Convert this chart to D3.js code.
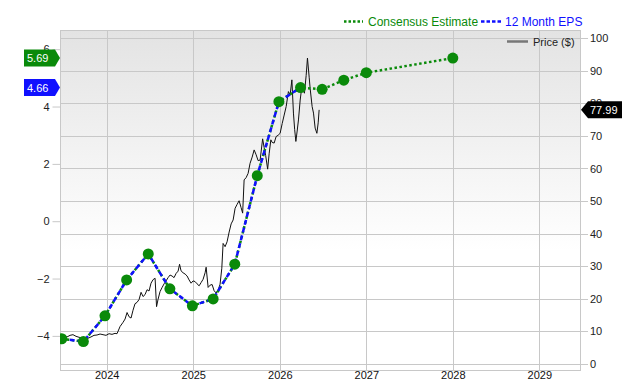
<!DOCTYPE html>
<html>
<head>
<meta charset="utf-8">
<script src="https://cdn.jsdelivr.net/npm/d3@7"></script>
<style>
  body { margin: 0; background: #fff; }
  svg { display: block; font-family: "Liberation Sans", Arial, sans-serif; }
</style>
</head>
<body>
<script>
// EPS, quarterly actuals then consensus estimates (decimal years)
const epsDates = [2023.48, 2023.73, 2023.98, 2024.23, 2024.48, 2024.73, 2024.99, 2025.23,
    2025.48, 2025.74, 2025.99, 2026.24, 2026.49, 2026.74, 2027.0, 2028.0];
const epsValues = [-4.10, -4.20, -3.30, -2.05, -1.14, -2.36, -2.95, -2.71,
    -1.50, 1.59, 4.17, 4.66, 4.60, 4.92, 5.18, 5.69];
const actualCount = 12;

// share price ($)
const priceDates = [2023.471, 2023.506, 2023.541, 2023.576, 2023.610, 2023.645, 2023.680, 2023.714,
    2023.749, 2023.784, 2023.818, 2023.853, 2023.888, 2023.923, 2023.957, 2023.992, 2024.027,
    2024.061, 2024.096, 2024.119, 2024.154, 2024.189, 2024.212, 2024.235, 2024.258, 2024.281,
    2024.304, 2024.327, 2024.350, 2024.374, 2024.397, 2024.420, 2024.443, 2024.466, 2024.489,
    2024.512, 2024.536, 2024.559, 2024.576, 2024.593, 2024.616, 2024.640, 2024.663, 2024.686,
    2024.709, 2024.732, 2024.755, 2024.778, 2024.802, 2024.825, 2024.842, 2024.859, 2024.882,
    2024.906, 2024.929, 2024.952, 2024.975, 2024.998, 2025.021, 2025.044, 2025.068, 2025.091,
    2025.114, 2025.137, 2025.149, 2025.172, 2025.195, 2025.218, 2025.241, 2025.264, 2025.287,
    2025.310, 2025.330, 2025.345, 2025.368, 2025.391, 2025.415, 2025.438, 2025.461, 2025.484,
    2025.507, 2025.530, 2025.553, 2025.571, 2025.588, 2025.611, 2025.634, 2025.657, 2025.681,
    2025.704, 2025.727, 2025.750, 2025.773, 2025.802, 2025.819, 2025.837, 2025.860, 2025.877,
    2025.897, 2025.912, 2025.935, 2025.958, 2025.981, 2026.004, 2026.028, 2026.051, 2026.074,
    2026.100, 2026.120, 2026.140, 2026.158, 2026.172, 2026.186, 2026.201, 2026.216, 2026.236,
    2026.255, 2026.270, 2026.285, 2026.305, 2026.320, 2026.340, 2026.351, 2026.374, 2026.390,
    2026.409, 2026.429, 2026.444, 2026.455];
const priceValues = [7.9, 8.6, 8.3, 8.8, 9.0, 8.5, 8.2, 8.0,
    8.1, 7.9, 8.3, 8.8, 8.9, 9.2, 9.0, 8.8, 9.3,
    9.1, 9.4, 9.3, 11.5, 12.8, 13.8, 15.8, 14.5, 14.1,
    16.5, 18.5, 18.9, 19.8, 22.0, 20.7, 21.3, 22.8, 22.4,
    24.8, 25.9, 26.3, 17.6, 19.8, 22.2, 23.5, 24.6, 25.5,
    26.5, 27.3, 27.0, 26.5, 27.8, 28.5, 30.6, 28.6, 28.0,
    27.6, 27.0, 25.8, 24.8, 25.5, 25.3, 24.6, 24.0, 25.0,
    26.0, 28.0, 29.7, 23.5, 24.2, 24.4, 22.5, 21.8, 22.6,
    24.5, 29.4, 37.0, 36.0, 37.5, 40.5, 43.0, 44.2, 47.8,
    49.0, 50.1, 48.0, 46.3, 56.5, 57.2, 58.5, 61.6, 63.5,
    65.7, 64.2, 62.4, 62.6, 69.1, 66.5, 64.0, 59.8, 64.5,
    68.8, 68.0, 67.8, 69.8, 70.2, 70.8, 73.8, 76.4, 79.0,
    83.6, 82.6, 87.2, 77.0, 72.0, 68.3, 71.5, 74.9, 81.0,
    85.1, 84.0, 83.1, 88.5, 93.9, 88.0, 84.6, 79.0, 77.0,
    72.4, 70.8, 74.0, 77.99];

const yearTicks = [2024, 2025, 2026, 2027, 2028, 2029];
const epsTicks = [-4, -2, 0, 2, 4, 6];
const priceTicks = [0, 10, 20, 30, 40, 50, 60, 70, 80, 90, 100];

const W = 640, H = 380;
const mLeft = 60, mRight = 580, mTop = 30, mBottom = 370;

const x = d3.scaleLinear().domain([2023.46, 2029.47]).range([mLeft, mRight]);
const yEps = d3.scaleLinear().domain([-5.19, 6.67]).range([mBottom, mTop]);
const yPrice = d3.scaleLinear().domain([-1.84, 102.5]).range([mBottom, mTop]);

const svg = d3.select("body").append("svg")
    .attr("width", W)
    .attr("height", H);

const defs = svg.append("defs");
const grad = defs.append("linearGradient")
    .attr("id", "bg").attr("x1", 0).attr("y1", 0).attr("x2", 0).attr("y2", 1);
grad.append("stop").attr("offset", "0%").attr("stop-color", "#e3e3e3");
grad.append("stop").attr("offset", "65%").attr("stop-color", "#ffffff");
defs.append("clipPath").attr("id", "clip")
    .append("rect").attr("x", mLeft).attr("y", mTop)
    .attr("width", mRight - mLeft).attr("height", mBottom - mTop);

svg.append("rect")
    .attr("x", mLeft).attr("y", mTop)
    .attr("width", mRight - mLeft).attr("height", mBottom - mTop)
    .attr("fill", "url(#bg)");

// grid
const grid = svg.append("g").attr("stroke", "#c8c8c8").attr("stroke-width", 1);
grid.selectAll(".h").data(priceTicks).enter().append("line")
    .attr("x1", mLeft).attr("x2", mRight + 8)
    .attr("y1", d => Math.round(yPrice(d)) + 0.5)
    .attr("y2", d => Math.round(yPrice(d)) + 0.5);
grid.selectAll(".v").data(yearTicks).enter().append("line")
    .attr("y1", mTop).attr("y2", mBottom)
    .attr("x1", d => Math.round(x(d)) + 0.5)
    .attr("x2", d => Math.round(x(d)) + 0.5);
svg.append("rect")
    .attr("x", mLeft + 0.5).attr("y", mTop + 0.5)
    .attr("width", mRight - mLeft).attr("height", mBottom - mTop)
    .attr("fill", "none").attr("stroke", "#c8c8c8");

// left axis (EPS)
const yAxisL = svg.append("g")
    .attr("transform", `translate(${mLeft + 0.5},0)`)
    .call(d3.axisLeft(yEps).tickValues(epsTicks).tickSize(8).tickPadding(3).tickFormat(d3.format("d")));
yAxisL.select(".domain").remove();
yAxisL.selectAll("line").attr("stroke", "#c8c8c8");
yAxisL.selectAll("text").attr("font-size", 11).attr("fill", "#222").attr("font-family", null);

// right axis (price)
const yAxisR = svg.append("g")
    .attr("transform", `translate(${mRight + 8},0)`)
    .call(d3.axisRight(yPrice).tickValues(priceTicks).tickSize(0).tickPadding(2));
yAxisR.select(".domain").remove();
yAxisR.selectAll("text").attr("font-size", 11).attr("fill", "#222").attr("font-family", null);

// bottom axis
const xAxis = svg.append("g")
    .attr("transform", `translate(0,${mBottom})`)
    .call(d3.axisBottom(x).tickValues(yearTicks).tickSize(0).tickPadding(1).tickFormat(d3.format("d")));
xAxis.select(".domain").remove();
xAxis.selectAll("text").attr("font-size", 11).attr("fill", "#111").attr("font-family", null);

const plot = svg.append("g").attr("clip-path", "url(#clip)");

// price line
const priceLine = d3.line()
    .x((d, i) => x(priceDates[i]))
    .y(d => yPrice(d));
plot.append("path")
    .datum(priceValues)
    .attr("fill", "none")
    .attr("stroke", "#111")
    .attr("stroke-width", 1)
    .attr("d", priceLine);

// EPS lines
const epsLine = d3.line()
    .x((d, i) => x(epsDates[i]))
    .y(d => yEps(d));
plot.append("path")
    .datum(epsValues)
    .attr("fill", "none")
    .attr("stroke", "#0a8a0a")
    .attr("stroke-width", 2.5)
    .attr("stroke-dasharray", "2.5,2.5")
    .attr("d", epsLine);
plot.append("path")
    .datum(epsValues.slice(0, actualCount))
    .attr("fill", "none")
    .attr("stroke", "#1010ff")
    .attr("stroke-width", 2.5)
    .attr("stroke-dasharray", "5,3")
    .attr("d", epsLine);

plot.selectAll("circle")
    .data(epsValues)
    .enter()
    .append("circle")
    .attr("cx", (d, i) => x(epsDates[i]))
    .attr("cy", d => yEps(d))
    .attr("r", 5.5)
    .attr("fill", "#0a8a0a");

// value flags
function leftFlag(val, color) {
    const cy = yEps(val);
    const g = svg.append("g");
    g.append("path")
        .attr("d", `M24,${cy - 8.5}H55L60,${cy}L55,${cy + 8.5}H24Z`)
        .attr("fill", color);
    g.append("text")
        .attr("x", 27).attr("y", cy + 4)
        .attr("font-size", 11).attr("fill", "#fff")
        .text(val.toFixed(2));
}
leftFlag(epsValues[epsValues.length - 1], "#0a8a0a");
leftFlag(epsValues[actualCount - 1], "#1010ff");

const lastPrice = priceValues[priceValues.length - 1];
const py = yPrice(lastPrice);
svg.append("path")
    .attr("d", `M581,${py}L588,${py - 8.5}H622V${py + 8.5}H588Z`)
    .attr("fill", "#000");
svg.append("text")
    .attr("x", 590).attr("y", py + 4)
    .attr("font-size", 11).attr("fill", "#fff")
    .text(lastPrice.toFixed(2));

// legend
const legend = svg.append("g").attr("font-size", 12);
legend.append("line")
    .attr("x1", 344).attr("x2", 363).attr("y1", 21.5).attr("y2", 21.5)
    .attr("stroke", "#0a8a0a").attr("stroke-width", 2.5).attr("stroke-dasharray", "2.5,2");
legend.append("text")
    .attr("x", 368).attr("y", 26).attr("fill", "#0a8a0a")
    .text("Consensus Estimate");
legend.append("line")
    .attr("x1", 481).attr("x2", 502).attr("y1", 21.5).attr("y2", 21.5)
    .attr("stroke", "#1010ff").attr("stroke-width", 2.5).attr("stroke-dasharray", "3.5,2");
legend.append("text")
    .attr("x", 505).attr("y", 26).attr("fill", "#1010ff")
    .text("12 Month EPS");

legend.append("line")
    .attr("x1", 507).attr("x2", 528).attr("y1", 41.5).attr("y2", 41.5)
    .attr("stroke", "#777").attr("stroke-width", 2.5);
legend.append("text")
    .attr("x", 533).attr("y", 45.5).attr("font-size", 11).attr("fill", "#222")
    .text("Price ($)");
</script>
</body>
</html>
